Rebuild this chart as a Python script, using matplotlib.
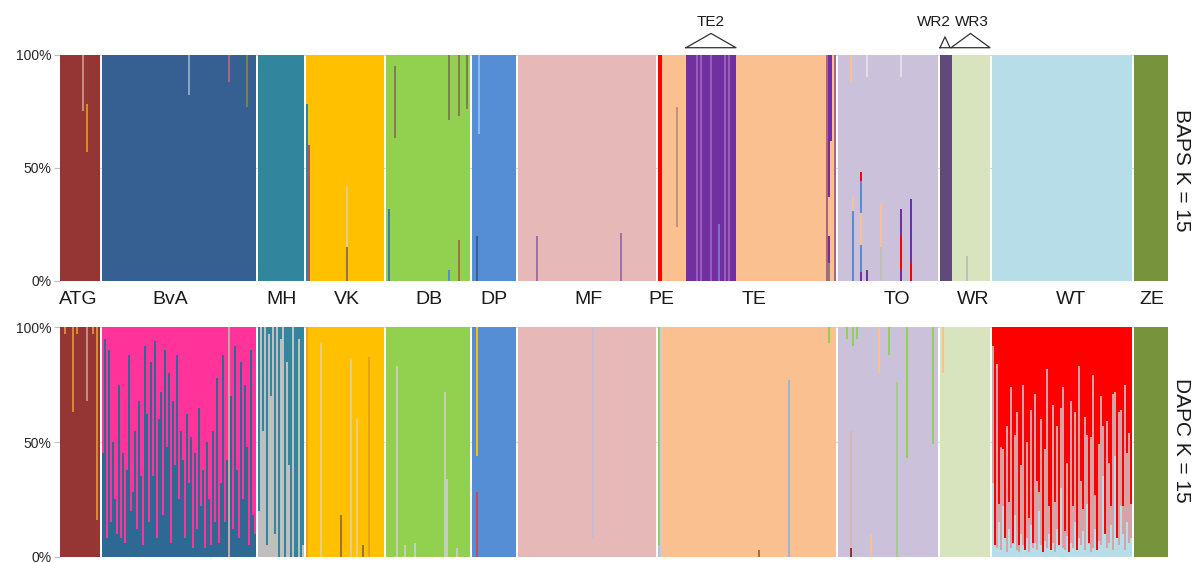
import matplotlib.pyplot as plt

plt.rcParams["font.family"] = ["Liberation Sans", "DejaVu Sans"]

# populations, in plotting order, with number of individuals
GROUPS = ["ATG", "BvA", "MH", "VK", "DB", "DP", "MF", "PE", "TE", "TO", "WR", "WT", "ZE"]
GROUP_SIZES = [20, 77, 23, 39, 42, 22, 69, 2, 87, 50, 25, 70, 17]
GAP_AFTER = [1, 1, 1, 1, 1, 1, 1, 0, 1, 1, 1, 1, 0]
LABEL_OFFSET = [-0.7, -4.5, 0.5, 1, 0.5, 0, 0.5, 0.5, 2.5, 4.7, 4, 4.5, 0.5]

COLOURS = {
    "atg": "#963634", "bva": "#376092", "mh": "#31859c", "vk": "#ffc000",
    "db": "#92d050", "dp": "#558ed5", "mf": "#e6b9b8", "pe": "#ff0000",
    "te": "#fac090", "te2": "#7030a0", "to": "#ccc1da", "wr2": "#604a7b",
    "wr3": "#d7e4bd", "wt": "#b7dee8", "ze": "#77933c",
    # extra shades used by single admixed individuals
    "pink": "#ff3399", "bva2": "#2e6893", "grey": "#bfbfbf", "wtmix": "#d8a2a6",
    "orng": "#d98a2c", "dkgold": "#e8a317", "faintgold": "#e8cd82",
    "faintpink": "#c48a84", "faintblue": "#86a6c6", "olive": "#7d7f4e",
    "brown": "#9a7440", "ltblue": "#92b8e6", "lilac": "#a070b0",
    "te2lt": "#9a5cba", "mauve": "#c48f86", "mauve2": "#b0637e",
    "greyd": "#857f74", "light": "#e2dde8", "ltgreen": "#a9cc82",
    "faintgrey": "#c6cdb8", "ltlav": "#cfcad9", "dprose": "#c0504d",
    "lilacgrey": "#cbbccd", "tan": "#c8a4a2", "pinkgrey": "#dcb4b4",
    "purpblue": "#7f72c4",
}

# ---- BAPS K = 15 ----
BAPS_HOME = ["atg", "bva", "mh", "vk", "db", "dp", "mf", "pe", "te", "to", "wr3", "wt", "ze"]
BAPS_SUBRUNS = [("TE", 12, 37, "te2"), ("WR", 0, 6, "wr2")]
BAPS_ADMIX = [
    ("ATG", 11, [("atg", 0.75), ("faintpink", 0.25)]),
    ("ATG", 13, [("atg", 0.57), ("orng", 0.21)]),
    ("BvA", 43, [("bva", 0.82), ("faintblue", 0.18)]),
    ("BvA", 63, [("bva", 0.88), ("mauve2", 0.12)]),
    ("BvA", 72, [("bva", 0.77), ("olive", 0.23)]),
    ("VK", 0, [("mh", 0.78)]),
    ("VK", 1, [("dprose", 0.60)]),
    ("VK", 20, [("brown", 0.15), ("faintgold", 0.27)]),
    ("DB", 1, [("mh", 0.32)]),
    ("DB", 4, [("db", 0.63), ("olive", 0.32)]),
    ("DB", 31, [("dp", 0.05), ("db", 0.66), ("olive", 0.29)]),
    ("DB", 36, [("brown", 0.18), ("db", 0.55), ("olive", 0.27)]),
    ("DB", 40, [("db", 0.76), ("olive", 0.24)]),
    ("DP", 2, [("bva", 0.20)]),
    ("DP", 3, [("dp", 0.65), ("ltblue", 0.35)]),
    ("MF", 9, [("lilac", 0.20)]),
    ("MF", 51, [("lilac", 0.21)]),
    ("TE", 7, [("te", 0.24), ("mauve", 0.53)]),
    ("TE", 17, [("te2lt", 1.0)]),
    ("TE", 19, [("te2lt", 1.0)]),
    ("TE", 24, [("te2lt", 1.0)]),
    ("TE", 28, [("purpblue", 0.25)]),
    ("TE", 31, [("te2lt", 1.0)]),
    ("TE", 33, [("te2lt", 1.0)]),
    ("TE", 82, [("mauve2", 1.0)]),
    ("TE", 83, [("greyd", 0.08), ("te2", 0.12), ("te", 0.17), ("te2", 0.63)]),
    ("TE", 84, [("te", 0.62), ("te2", 0.38)]),
    ("TE", 86, [("mauve2", 1.0)]),
    ("TO", 6, [("to", 0.88), ("te", 0.12)]),
    ("TO", 7, [("dp", 0.31), ("te", 0.06)]),
    ("TO", 11, [("te2", 0.04), ("dp", 0.12), ("te", 0.14), ("dp", 0.14), ("pe", 0.04)]),
    ("TO", 14, [("te2", 0.05), ("to", 0.85), ("light", 0.10)]),
    ("TO", 21, [("grey", 0.15), ("te", 0.19)]),
    ("TO", 31, [("te2", 0.05), ("pe", 0.15), ("te2", 0.12), ("to", 0.58), ("light", 0.10)]),
    ("TO", 36, [("pe", 0.08), ("te2", 0.28)]),
    ("WR", 13, [("grey", 0.11)]),
]

# ---- DAPC K = 15 ----
DAPC_HOME = ["atg", "pink", "mh", "vk", "db", "dp", "mf", "db", "te", "to", "wr3", "pe", "ze"]

# BvA: share of the blue cluster (rest pink)
BVA_BLUE = [
    0.45, 0.95, 0.08, 0.90, 0.15, 0.50, 0.25, 0.10, 0.75, 0.08,
    0.45, 0.06, 0.38, 0.88, 0.20, 0.28, 0.55, 0.12, 0.68, 0.35,
    0.05, 0.92, 0.62, 0.15, 0.85, 0.35, 0.94, 0.08, 0.60, 0.72,
    0.18, 0.90, 0.48, 0.80, 0.06, 0.68, 0.40, 0.88, 0.25, 0.55,
    0.42, 0.08, 0.62, 0.32, 0.52, 0.04, 0.45, 0.12, 0.65, 0.22,
    0.38, 0.04, 0.50, 0.25, 0.05, 0.55, 0.15, 0.78, 0.06, 0.32,
    0.88, 0.15, 0.42, 0.00, 0.70, 0.12, 0.92, 0.38, 0.08, 0.85,
    0.25, 0.75, 0.48, 0.05, 0.90, 0.18, 0.10,
]
# MH: share of the grey cluster (rest teal)
MH_GREY = [
    0.20, 1.00, 0.55, 1.00, 0.05, 0.97, 0.70, 1.00, 0.10, 1.00,
    0.00, 0.95, 1.00, 0.00, 0.85, 0.40, 0.00, 1.00, 0.00, 0.00,
    0.95, 0.00, 0.05,
]
# WT: light blue share, mixed share, rest red
WT_BLUE = [
    0.32, 0.05, 0.04, 0.15, 0.03, 0.22, 0.08, 0.02, 0.12, 0.04,
    0.06, 0.18, 0.03, 0.02, 0.10, 0.05, 0.03, 0.08, 0.02, 0.14,
    0.04, 0.06, 0.03, 0.20, 0.05, 0.02, 0.07, 0.04, 0.10, 0.03,
    0.06, 0.02, 0.12, 0.05, 0.30, 0.04, 0.03, 0.09, 0.02, 0.06,
    0.04, 0.15, 0.03, 0.08, 0.05, 0.11, 0.03, 0.23, 0.06, 0.02,
    0.04, 0.12, 0.03, 0.07, 0.05, 0.35, 0.10, 0.04, 0.06, 0.14,
    0.03, 0.44, 0.08, 0.05, 0.22, 0.10, 0.03, 0.15, 0.06, 0.08,
]
WT_MIX = [
    0.60, 0.00, 0.80, 0.08, 0.45, 0.25, 0.00, 0.55, 0.12, 0.70,
    0.00, 0.35, 0.60, 0.03, 0.30, 0.70, 0.00, 0.42, 0.15, 0.50,
    0.02, 0.65, 0.30, 0.08, 0.55, 0.00, 0.40, 0.78, 0.12, 0.00,
    0.60, 0.22, 0.45, 0.00, 0.35, 0.70, 0.08, 0.32, 0.00, 0.62,
    0.18, 0.48, 0.00, 0.75, 0.28, 0.10, 0.58, 0.30, 0.00, 0.50,
    0.75, 0.15, 0.00, 0.42, 0.65, 0.22, 0.00, 0.55, 0.35, 0.08,
    0.68, 0.28, 0.00, 0.58, 0.42, 0.12, 0.72, 0.30, 0.48, 0.15,
]
DAPC_ADMIX = [
    ("ATG", 2, [("atg", 0.97), ("orng", 0.03)]),
    ("ATG", 6, [("atg", 0.63), ("orng", 0.37)]),
    ("ATG", 8, [("atg", 0.97), ("orng", 0.03)]),
    ("ATG", 13, [("atg", 0.68), ("faintpink", 0.32)]),
    ("ATG", 16, [("atg", 0.97), ("orng", 0.03)]),
    ("ATG", 18, [("atg", 0.16), ("orng", 0.84)]),
    ("BvA", 63, [("tan", 1.0)]),
    ("VK", 0, [("dkgold", 1.0)]),
    ("VK", 7, [("faintgold", 0.93)]),
    ("VK", 17, [("brown", 0.18)]),
    ("VK", 22, [("faintgold", 0.86)]),
    ("VK", 25, [("faintgold", 0.60)]),
    ("VK", 28, [("brown", 0.05)]),
    ("VK", 31, [("dkgold", 0.87)]),
    ("DB", 5, [("faintgrey", 0.83)]),
    ("DB", 9, [("faintgrey", 0.05)]),
    ("DB", 14, [("faintgrey", 0.06)]),
    ("DB", 29, [("faintgrey", 0.72)]),
    ("DB", 30, [("faintgrey", 0.34)]),
    ("DB", 35, [("faintgrey", 0.04)]),
    ("DP", 2, [("dprose", 0.28), ("dp", 0.16), ("vk", 0.56)]),
    ("MF", 37, [("mf", 0.08), ("lilacgrey", 0.92)]),
    ("PE", 0, [("grey", 0.05), ("db", 0.95)]),
    ("PE", 1, [("ltlav", 1.0)]),
    ("TE", 48, [("brown", 0.03)]),
    ("TE", 63, [("ltblue", 0.77)]),
    ("TE", 83, [("te", 0.93), ("db", 0.07)]),
    ("TO", 4, [("to", 0.95), ("db", 0.05)]),
    ("TO", 6, [("atg", 0.04), ("pinkgrey", 0.51)]),
    ("TO", 7, [("to", 0.92), ("db", 0.08)]),
    ("TO", 9, [("to", 0.95), ("db", 0.05)]),
    ("TO", 16, [("te", 0.10)]),
    ("TO", 20, [("to", 0.80), ("te", 0.20)]),
    ("TO", 25, [("to", 0.88), ("db", 0.12)]),
    ("TO", 29, [("ltgreen", 0.76)]),
    ("TO", 34, [("to", 0.43), ("db", 0.57)]),
    ("TO", 47, [("to", 0.49), ("db", 0.51)]),
    ("WR", 1, [("wr3", 0.80), ("te", 0.20)]),
]


def build_stacks(home, subruns, dense, admix):
    base = {g: [h] * n for g, n, h in zip(GROUPS, GROUP_SIZES, home)}
    for g, start, stop, c in subruns:
        base[g][start:stop] = [c] * (stop - start)
    stacks = {g: [[(c, 1.0)] for c in base[g]] for g in GROUPS}
    for g, segs in dense.items():
        assert len(segs) == len(base[g]), g
        stacks[g] = segs
    for g, i, segs in admix:
        rest = 1.0 - sum(f for _, f in segs)
        stacks[g][i] = list(segs) + ([(base[g][i], rest)] if rest > 1e-6 else [])
    return stacks


def group_starts():
    starts, x = {}, 0
    for g, n, gap in zip(GROUPS, GROUP_SIZES, GAP_AFTER):
        starts[g] = x
        x += n + gap
    return starts, x


def draw_panel(ax, stacks, total):
    lefts, bottoms, heights, cols = [], [], [], []
    x = 0
    for g, gap in zip(GROUPS, GAP_AFTER):
        for segs in stacks[g]:
            y = 0.0
            for c, f in segs:
                if f > 0:
                    lefts.append(x)
                    bottoms.append(y)
                    heights.append(f)
                    cols.append(COLOURS[c])
                    y += f
            x += 1
        x += gap
    ax.bar(lefts, heights, width=1.0, bottom=bottoms, color=cols, align="edge",
           linewidth=0, zorder=2)
    ax.set_xlim(0, total)
    ax.set_ylim(0, 1)
    ax.set_yticks([0, 0.5, 1])
    ax.set_yticklabels(["0%", "50%", "100%"], fontsize=10, color="#262626")
    ax.set_xticks([])
    ax.yaxis.grid(True, color="#d9d9d9", linewidth=0.8, zorder=0)
    ax.set_axisbelow(True)
    ax.tick_params(axis="y", length=4, color="#bfbfbf", pad=2)
    for s in ax.spines.values():
        s.set_visible(False)


starts, total = group_starts()

baps = build_stacks(BAPS_HOME, BAPS_SUBRUNS, {}, BAPS_ADMIX)
dapc_dense = {
    "BvA": [[("bva2", b), ("pink", 1 - b)] for b in BVA_BLUE],
    "MH": [[("grey", g), ("mh", 1 - g)] for g in MH_GREY],
    "WT": [[("wt", b), ("wtmix", m), ("pe", 1 - b - m)] for b, m in zip(WT_BLUE, WT_MIX)],
}
dapc = build_stacks(DAPC_HOME, [], dapc_dense, DAPC_ADMIX)

W, H = 1195, 563
fig = plt.figure(figsize=(W / 100, H / 100), dpi=100)
ax_top = fig.add_axes([60 / W, (H - 281) / H, 2 * total / W, 226.5 / H])
ax_bot = fig.add_axes([60 / W, (H - 556.7) / H, 2 * total / W, 229.4 / H])
draw_panel(ax_top, baps, total)
draw_panel(ax_bot, dapc, total)

# population names between the panels
for g, n, off in zip(GROUPS, GROUP_SIZES, LABEL_OFFSET):
    ax_top.text(starts[g] + n / 2 + off, -0.08, g, ha="center", va="center",
                fontsize=14, color="#1a1a1a", clip_on=False)

# sub-cluster brackets above the BAPS panel
brackets = [
    (starts["TE"] + 12, starts["TE"] + 37, 1.093, "TE2", 0),
    (starts["WR"], starts["WR"] + 5, 1.078, "WR2", -5.5),
    (starts["WR"] + 5.5, starts["WR"] + 25, 1.093, "WR3", 0.6),
]
for x0, x1, apex, name, toff in brackets:
    xm = (x0 + x1) / 2
    ax_top.plot([x0, xm, x1, x0], [1.03, apex, 1.03, 1.03], color="#303030",
                linewidth=0.9, clip_on=False, zorder=3)
    ax_top.text(xm + toff, 1.143, name, ha="center", va="center", fontsize=11,
                color="#1a1a1a", clip_on=False)

fig.text(1182 / W, 1 - 170 / H, "BAPS K = 15", rotation=270, ha="center", va="center",
         fontsize=15, color="#1a1a1a")
fig.text(1182 / W, 1 - 440 / H, "DAPC K = 15", rotation=270, ha="center", va="center",
         fontsize=15, color="#1a1a1a")

fig.savefig("out.png", dpi=100)
